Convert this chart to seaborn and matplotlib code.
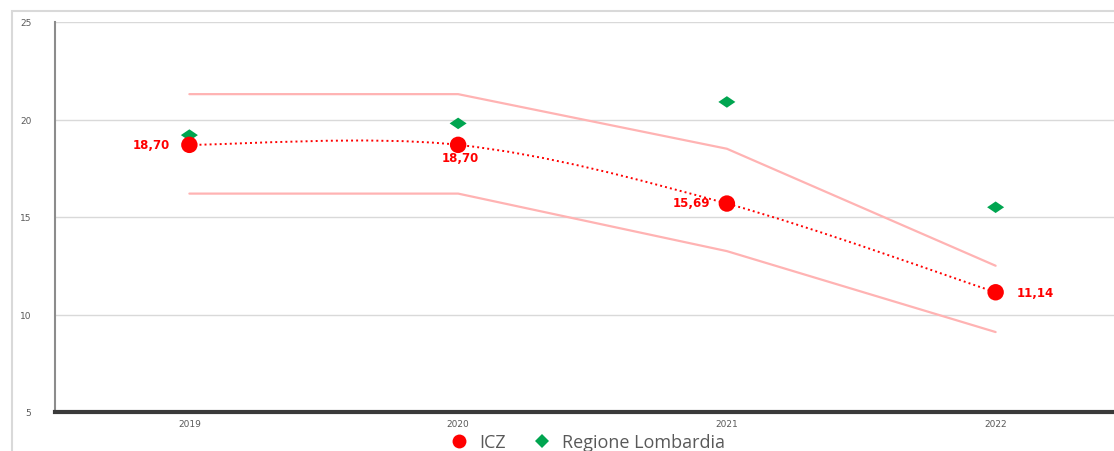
import numpy as np
import pandas as pd

import matplotlib
matplotlib.use("Agg")
import matplotlib.pyplot as plt
from matplotlib.path import Path
from matplotlib.patches import PathPatch, Rectangle
from matplotlib.lines import Line2D
import seaborn as sns


# ==========================================================
# DATA
# ==========================================================

years = ["2019", "2020", "2021", "2022"]

icz = [18.70, 18.70, 15.69, 11.14]
icz_labels = ["18,70", "18,70", "15,69", "11,14"]

lombardia = [19.2, 19.8, 20.9, 15.5]

band_upper = [21.3, 21.3, 18.5, 12.5]
band_lower = [16.2, 16.2, 13.25, 9.1]

y_ticks = [5, 10, 15, 20, 25]


# ==========================================================
# STYLE
# ==========================================================

sns.set_style("white")
plt.rcParams["font.family"] = ["DejaVu Sans"]

RED = "#FF0000"
GREEN = "#00A550"
PINK = "#FFB3B3"
GREY_TXT = "#595959"

fig = plt.figure(figsize=(11.14, 4.52), dpi=100)

# outer chart frame
fig.patches.append(
    Rectangle(
        (12 / 1114, -0.1),
        1.2,
        1 - 12 / 452 + 0.1,
        transform=fig.transFigure,
        fill=False,
        edgecolor="#D9D9D9",
        linewidth=1.5
    )
)

ax = fig.add_axes([55 / 1114, 1 - 413 / 452, 1075 / 1114, 390 / 452])

x = np.arange(len(years))

df = pd.DataFrame({
    "x": x,
    "icz": icz,
    "lombardia": lombardia,
    "upper": band_upper,
    "lower": band_lower
})

# --------------------------------------
# BAND LINES
# --------------------------------------

sns.lineplot(data=df, x="x", y="upper", ax=ax, color=PINK, linewidth=1.6)
sns.lineplot(data=df, x="x", y="lower", ax=ax, color=PINK, linewidth=1.6)

# --------------------------------------
# SMOOTHED DOTTED TREND (Excel style)
# --------------------------------------

pts = np.column_stack([x, icz]).astype(float)
n = len(pts)
verts = [tuple(pts[0])]
codes = [Path.MOVETO]
for i in range(n - 1):
    p_prev = pts[max(i - 1, 0)]
    p0 = pts[i]
    p1 = pts[i + 1]
    p_next = pts[min(i + 2, n - 1)]
    c1 = p0 + (p1 - p_prev) / 6
    c2 = p1 - (p_next - p0) / 6
    verts += [tuple(c1), tuple(c2), tuple(p1)]
    codes += [Path.CURVE4] * 3

ax.add_patch(
    PathPatch(
        Path(verts, codes),
        fill=False,
        edgecolor=RED,
        linewidth=1.4,
        linestyle=(0, (1, 1.6)),
        zorder=3
    )
)

# --------------------------------------
# POINTS
# --------------------------------------

diamond = [(-1, 0), (0, 0.68), (1, 0), (0, -0.68), (-1, 0)]

sns.scatterplot(
    data=df, x="x", y="lombardia", ax=ax,
    marker=diamond, s=150, color=GREEN, edgecolor="none", zorder=4
)

sns.scatterplot(
    data=df, x="x", y="icz", ax=ax,
    marker="o", s=140, color=RED, edgecolor="none", zorder=5
)

# --------------------------------------
# DATA LABELS
# --------------------------------------

label_pos = [
    (-19, 0, "right", "center"),
    (2, -13, "center", "center"),
    (-17, 1, "right", "center"),
    (21, 0, "left", "center"),
]

for i, (dx, dy, ha, va) in enumerate(label_pos):
    ax.annotate(
        icz_labels[i],
        (x[i], icz[i]),
        xytext=(dx * 0.72, dy * 0.72),
        textcoords="offset points",
        ha=ha,
        va=va,
        color=RED,
        fontsize=8.5,
        fontweight="bold",
        zorder=6
    )

# --------------------------------------
# AXES
# --------------------------------------

ax.set_xlim(-0.5, 3.5)
ax.set_ylim(5, 25)

ax.set_xticks(x)
ax.set_xticklabels(years)
ax.set_yticks(y_ticks)

ax.tick_params(axis="x", length=0, pad=5, labelsize=6.5, labelcolor=GREY_TXT)
ax.tick_params(axis="y", length=0, pad=17, labelsize=6.5, labelcolor=GREY_TXT)

ax.set_xlabel("")
ax.set_ylabel("")

ax.grid(axis="y", color="#D9D9D9", linewidth=1)
ax.set_axisbelow(True)

ax.spines["top"].set_visible(False)
ax.spines["right"].set_visible(False)
ax.spines["left"].set_color("#8C8C8C")
ax.spines["left"].set_linewidth(1.5)
ax.spines["bottom"].set_color("#3A3A3A")
ax.spines["bottom"].set_linewidth(3)

# --------------------------------------
# LEGEND
# --------------------------------------

handles = [
    Line2D([], [], marker="o", linestyle="none", color=RED,
           markersize=10, markeredgewidth=0, label="ICZ"),
    Line2D([], [], marker="D", linestyle="none", color=GREEN,
           markersize=7, markeredgewidth=0, label="Regione Lombardia"),
]

fig.legend(
    handles=handles,
    loc="center",
    bbox_to_anchor=(583 / 1114, 1 - 443 / 452),
    ncol=2,
    frameon=False,
    labelcolor=GREY_TXT,
    handletextpad=0.1,
    columnspacing=1.0,
    borderpad=0.1,
    prop={"family": "Open Sans", "size": 13}
)

fig.savefig("out.png", dpi=100)
plt.close(fig)
